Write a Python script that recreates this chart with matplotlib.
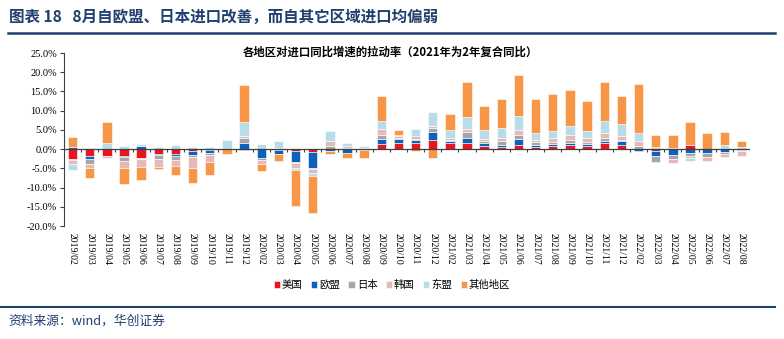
import numpy as np
import matplotlib
matplotlib.use('Agg')
import matplotlib.pyplot as plt
from matplotlib.ticker import MultipleLocator, FuncFormatter

plt.rcParams['font.family'] = ['Noto Sans CJK SC', 'DejaVu Sans']

months = ['2019/02', '2019/03', '2019/04', '2019/05', '2019/06', '2019/07',
          '2019/08', '2019/09', '2019/10', '2019/11', '2019/12',
          '2020/02', '2020/03', '2020/04', '2020/05', '2020/06', '2020/07',
          '2020/08', '2020/09', '2020/10', '2020/11', '2020/12',
          '2021/02', '2021/03', '2021/04', '2021/05', '2021/06', '2021/07',
          '2021/08', '2021/09', '2021/10', '2021/11', '2021/12',
          '2022/02', '2022/03', '2022/04', '2022/05', '2022/06', '2022/07',
          '2022/08']

# contribution to import growth, percentage points
usa = [-2.6, -1.9, -1.7, -1.9, -2.3, -1.2, -1.3, -0.5, -0.3, 0.0, -0.3,
       -0.1, -0.3, -0.5, -0.7, 0.1, 0.0, 0.0, 1.2, 1.6, 1.7, 2.5,
       1.6, 1.6, 0.7, 0.5, 1.0, 0.5, 0.7, 1.0, 0.7, 1.6, 1.1,
       0.1, -0.4, -0.1, 1.0, -0.1, -0.1, 0.0]
eu = [0.5, -0.6, 0.1, -0.1, 0.8, -0.4, -0.6, -1.0, -0.6, 0.1, 1.5,
      -2.3, -1.0, -2.8, -4.2, -0.6, -1.1, -0.3, 1.5, 1.0, 0.6, 2.0,
      0.5, 1.3, 0.9, 0.6, 1.6, 0.6, 0.6, 0.7, 0.6, 0.6, 0.9,
      -0.4, -1.5, -1.5, -0.9, -0.9, -0.7, -0.2]
japan = [-0.2, -1.3, -0.1, -1.2, -0.2, -1.1, -0.9, -0.5, -0.6, 0.0, 1.3,
         -0.5, 0.1, -0.4, -0.4, 0.8, 0.4, 0.2, 1.1, 0.4, 0.4, 1.0,
         0.4, 1.5, 0.6, 0.9, 1.2, 0.7, 0.6, 0.8, 0.6, 0.6, 0.3,
         0.7, -1.4, -1.0, -1.0, -1.0, -0.6, -0.3]
korea = [-1.2, -1.2, -0.6, -1.7, -2.1, -1.9, -1.6, -3.0, -1.8, 0.0, 0.6,
         -1.1, 0.2, -1.1, -0.9, 1.1, 0.4, 0.0, 1.4, 0.3, 0.6, 0.5,
         0.5, 0.9, 0.4, 0.8, 1.3, 0.6, 0.9, 1.2, 0.9, 1.4, 1.1,
         1.3, 0.1, -1.0, -0.3, -1.1, -0.6, -1.3]
asean = [-1.5, 0.2, 1.5, 0.8, 0.4, 0.5, 1.0, 0.6, 0.5, 2.2, 3.7,
         1.3, 1.9, -0.6, -0.7, 2.8, 0.8, 0.5, 2.2, 0.3, 1.9, 3.7,
         2.0, 3.1, 2.3, 2.6, 3.4, 1.9, 2.0, 2.4, 2.0, 3.2, 3.2,
         2.0, 0.4, 0.2, -0.8, 0.1, 1.0, 0.6]
others = [2.7, -2.4, 5.4, -4.2, -3.4, -0.7, -2.3, -3.9, -3.4, -1.3, 9.7,
          -1.6, -1.9, -9.3, -9.7, -0.7, -1.1, -1.9, 6.4, 1.5, -0.6, -2.2,
          4.1, 9.0, 6.4, 7.7, 10.9, 8.7, 9.5, 9.2, 7.6, 10.0, 7.1,
          12.8, 3.3, 3.4, 6.0, 4.0, 3.4, 1.6]

series = [('美国', usa, '#E8141E'),
          ('欧盟', eu, '#0A62BE'),
          ('日本', japan, '#A6A6A6'),
          ('韩国', korea, '#E6B9B8'),
          ('东盟', asean, '#B7DEE8'),
          ('其他地区', others, '#F79646')]

navy = '#1F3F6E'

fig = plt.figure(figsize=(7.84, 3.39), dpi=100)
ax = fig.add_axes([64 / 784, 113 / 339, 686 / 784, 173 / 339])

n = len(months)
x = np.arange(n)
pos = np.zeros(n)
neg = np.zeros(n)
for name, vals, color in series:
    v = np.array(vals)
    base = np.where(v >= 0, pos, neg)
    ax.bar(x, v, 0.55, bottom=base, color=color, edgecolor='white',
           linewidth=0.4, label=name, zorder=2)
    pos += np.clip(v, 0, None)
    neg += np.clip(v, None, 0)

ax.set_xlim(-0.5, n - 0.5)
ax.set_ylim(-20, 25)
ax.yaxis.set_major_locator(MultipleLocator(5))
ax.yaxis.set_major_formatter(FuncFormatter(lambda y, _: f'{y:.1f}%'))
for s in ['top', 'right', 'bottom']:
    ax.spines[s].set_visible(False)
ax.spines['left'].set_color('#404040')
ax.spines['left'].set_linewidth(0.8)
ax.tick_params(axis='y', length=3, width=0.8, color='#404040', pad=2,
               labelsize=7.5)
for lab in ax.get_yticklabels():
    lab.set_fontfamily('Liberation Serif')

ax.set_xticks(x)
ax.set_xticklabels(months, rotation=270, fontfamily='Liberation Serif',
                   fontsize=7)
ax.tick_params(axis='x', length=0, pad=5)

# category axis drawn through zero, with ticks between the bars
ax.axhline(0, color='#404040', lw=0.9, zorder=3)
ax.vlines(np.arange(n + 1) - 0.5, -0.7, 0, color='#404040', lw=0.8, zorder=3)

ax.set_title('各地区对进口同比增速的拉动率（2021年为2年复合同比）',
             fontsize=8.2, fontweight='bold', pad=0, y=0.985, x=0.475)

ax.legend(loc='center', bbox_to_anchor=(0.5, 0.159),
          bbox_transform=fig.transFigure, ncol=6, frameon=False,
          fontsize=7.5, handlelength=0.6, handleheight=0.6,
          handletextpad=0.2, columnspacing=0.8)

fig.text(9 / 784, 1 - 17 / 339, '图表 18   8月自欧盟、日本进口改善，而自其它区域进口均偏弱',
         fontsize=11.2, fontweight='bold', color=navy, va='center', ha='left')
fig.add_artist(plt.Line2D([8 / 784, 775 / 784], [1 - 33 / 339, 1 - 33 / 339],
                          color=navy, lw=1.8, transform=fig.transFigure))
fig.add_artist(plt.Line2D([0, 775 / 784], [1 - 307 / 339, 1 - 307 / 339],
                          color=navy, lw=1.5, transform=fig.transFigure))
fig.text(8 / 784, 1 - 321 / 339, '资料来源：wind，华创证券', fontsize=9.2,
         color=navy, style='italic', va='center', ha='left')

fig.savefig('out.png', dpi=100)
